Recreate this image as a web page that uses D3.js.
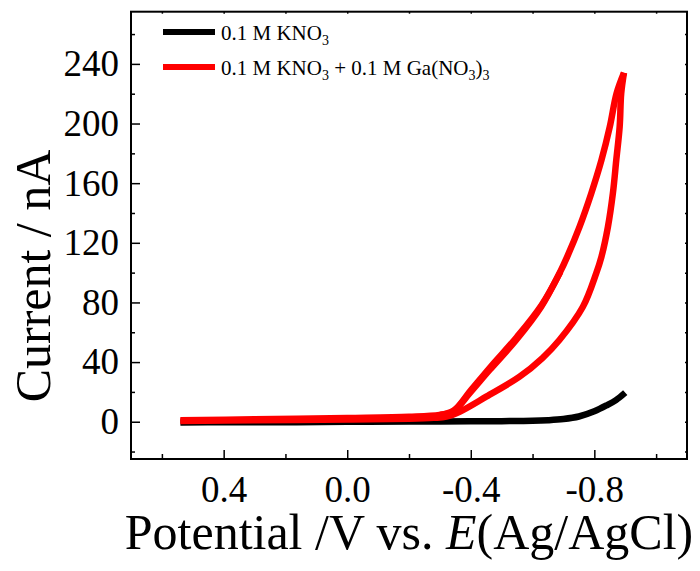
<!DOCTYPE html>
<html>
<head>
<meta charset="utf-8">
<script src="https://cdn.jsdelivr.net/npm/d3@7"></script>
<style>
  body { margin: 0; background: #fff; }
  svg text { font-family: "Liberation Serif", "Times New Roman", serif; fill: #000; }
</style>
</head>
<body>
<div id="chart"></div>
<script>
// values (potential in V, current in nA)
var blackE = [0.54, 0.4, 0.2, 0.0, -0.2, -0.3, -0.4, -0.5, -0.6, -0.65, -0.7, -0.75, -0.8, -0.84, -0.87, -0.9];
var blackI = [-0.5, -0.4, -0.3, -0.1, 0.1, 0.2, 0.3, 0.4, 0.6, 1.0, 1.8, 3.5, 7.0, 11, 14.5, 19.5];

var redFwdE = [0.54, 0.3, 0.0, -0.2, -0.28, -0.321, -0.364, -0.45, -0.558, -0.632, -0.687, -0.763, -0.806, -0.823, -0.844, -0.86, -0.871, -0.882, -0.887, -0.896];
var redFwdI = [0.5, 1.0, 1.5, 2.0, 2.6, 3.4, 6.7, 16.8, 30.2, 42.7, 54.8, 77.1, 99.5, 110.6, 130.7, 153.1, 175.4, 197.8, 220.2, 234];

var redRevE = [-0.896, -0.872, -0.85, -0.823, -0.79, -0.752, -0.712, -0.687, -0.628, -0.547, -0.461, -0.396, -0.342, -0.299, -0.2, 0.0, 0.3, 0.54];
var redRevI = [234, 220.2, 197.8, 175.4, 153.1, 130.7, 110.6, 99.5, 77.1, 54.8, 34.7, 19.0, 6.7, 4.5, 3.3, 2.5, 1.6, 1.0];

// second cycle, visible as the thicker band on the return branch
var redRev2E = [-0.69, -0.63, -0.55, -0.465, -0.40, -0.345, -0.30];
var redRev2I = [100.5, 78.5, 57.0, 37.0, 21.0, 7.5, 4.5];

var xMajor = [0.4, 0.0, -0.4, -0.8];
var xMinor = [0.6, 0.2, -0.2, -0.6, -1.0];
var yMajor = [0, 40, 80, 120, 160, 200, 240];
var yMinor = [-20, 20, 60, 100, 140, 180, 220, 260];

var legendLabels = ["0.1 M KNO3", "0.1 M KNO3 + 0.1 M Ga(NO3)3"];
var colors = ["#000000", "#ff0000"];

var width = 700, height = 571;
var pLeft = 131, pRight = 687, pTop = 11.7, pBottom = 459;
var serif = "'Liberation Serif', 'Times New Roman', serif";

var svg = d3.select("#chart").append("svg")
  .attr("width", width)
  .attr("height", height);

var x = d3.scaleLinear().domain([0.7, -1.1]).range([pLeft, pRight]);
var y = d3.scaleLinear().domain([-25, 275]).range([pBottom, pTop]);

function zip(a, b) {
  return a.map(function(v, i) { return [v, b[i]]; });
}

var line = d3.line()
  .x(function(d) { return x(d[0]); })
  .y(function(d) { return y(d[1]); })
  .curve(d3.curveCatmullRom.alpha(0.5));

var plot = svg.append("g");

plot.append("path")
  .attr("d", line(zip(blackE, blackI)))
  .attr("fill", "none").attr("stroke", colors[0])
  .attr("stroke-width", 6.5).attr("stroke-linejoin", "round");

[zip(redFwdE, redFwdI), zip(redRevE, redRevI), zip(redRev2E, redRev2I)].forEach(function(pts) {
  plot.append("path")
    .attr("d", line(pts))
    .attr("fill", "none").attr("stroke", colors[1])
    .attr("stroke-width", 6.5).attr("stroke-linejoin", "round");
});

// axes, ticks pointing inward
var fmt = function(d) { return d.toFixed(1); };

function styleAxis(g) {
  g.attr("font-family", serif).attr("font-size", 37);
  g.select(".domain").remove();
  g.selectAll("line").attr("stroke", "#000").attr("stroke-width", 1.5);
  g.selectAll("text").style("font-family", serif).style("font-size", "37px");
}
function noLabels(g) {
  g.select(".domain").remove();
  g.selectAll("text").remove();
  g.selectAll("line").attr("stroke", "#000").attr("stroke-width", 1.5);
}

svg.append("g").attr("transform", "translate(0," + pBottom + ")")
  .call(d3.axisBottom(x).tickValues(xMajor).tickFormat(fmt).tickSizeInner(-9).tickSizeOuter(0).tickPadding(17))
  .call(styleAxis);
svg.append("g").attr("transform", "translate(0," + pBottom + ")")
  .call(d3.axisBottom(x).tickValues(xMinor).tickSizeInner(-5).tickSizeOuter(0))
  .call(noLabels);

svg.append("g").attr("transform", "translate(" + pLeft + ",0)")
  .call(d3.axisLeft(y).tickValues(yMajor).tickSizeInner(-9).tickSizeOuter(0).tickPadding(12))
  .call(styleAxis);
svg.append("g").attr("transform", "translate(" + pLeft + ",0)")
  .call(d3.axisLeft(y).tickValues(yMinor).tickSizeInner(-4).tickSizeOuter(0))
  .call(noLabels);

// tiny mirrored ticks on top and right
svg.append("g").attr("transform", "translate(0," + pTop + ")")
  .call(d3.axisTop(x).tickValues(xMajor.concat(xMinor)).tickSizeInner(-2).tickSizeOuter(0))
  .call(noLabels);
svg.append("g").attr("transform", "translate(" + pRight + ",0)")
  .call(d3.axisRight(y).tickValues(yMajor.concat(yMinor)).tickSizeInner(-2).tickSizeOuter(0))
  .call(noLabels);

// frame
svg.append("rect")
  .attr("x", pLeft).attr("y", pTop)
  .attr("width", pRight - pLeft).attr("height", pBottom - pTop)
  .attr("fill", "none").attr("stroke", "#000").attr("stroke-width", 2);

// axis titles
svg.append("text")
  .attr("transform", "translate(50,276) rotate(-90)")
  .attr("text-anchor", "middle")
  .style("font-size", "50px")
  .text("Current / nA");

var xt = svg.append("text")
  .attr("x", (pLeft + pRight) / 2).attr("y", 549)
  .attr("text-anchor", "middle")
  .style("font-size", "50px");
xt.append("tspan").text("Potential /V vs. ");
xt.append("tspan").style("font-style", "italic").text("E");
xt.append("tspan").text("(Ag/AgCl)");

// legend
var legendY = [32, 67];
function addSubText(t, s) {
  // a "3" right after O or ")" is a subscript
  var parts = s.split(/(?<=[O\)])3/);
  parts.forEach(function(p, i) {
    if (i > 0) {
      t.append("tspan").attr("dy", 5).style("font-size", "14px").text("3");
      t.append("tspan").attr("dy", -5).text(p);
    } else {
      t.append("tspan").text(p);
    }
  });
}
legendLabels.forEach(function(lbl, i) {
  svg.append("line")
    .attr("x1", 163).attr("x2", 215)
    .attr("y1", legendY[i]).attr("y2", legendY[i])
    .attr("stroke", colors[i]).attr("stroke-width", 6);
  var t = svg.append("text")
    .attr("x", 221).attr("y", legendY[i] + 7.5)
    .style("font-size", "21px");
  addSubText(t, lbl);
});
</script>
</body>
</html>
